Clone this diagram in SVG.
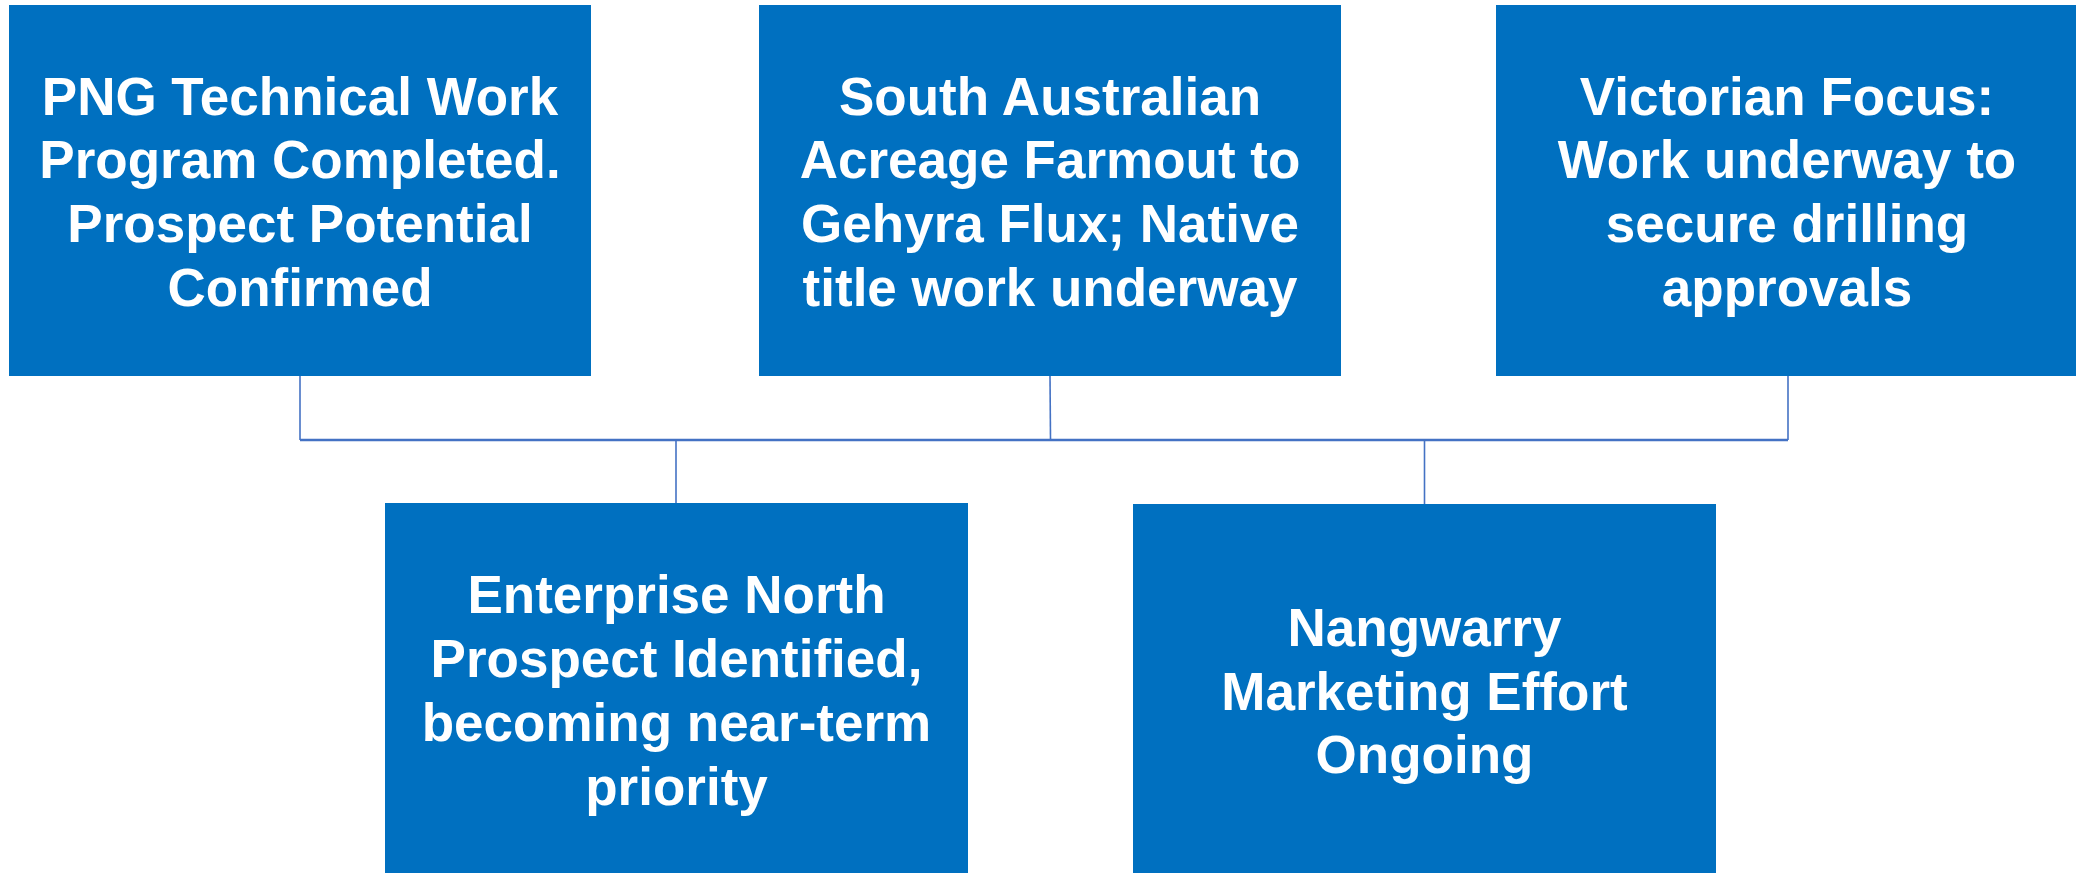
<svg xmlns="http://www.w3.org/2000/svg" width="2076" height="873" viewBox="0 0 2076 873">
<style>
.box{fill:#0070C0}
.lbl{font-family:"Liberation Sans",Arial,sans-serif;font-weight:bold;font-size:53px;fill:#FFFFFF;text-anchor:middle}
.con{stroke:#4472C4;stroke-width:1.6;fill:none}
.bar{stroke:#4472C4;stroke-width:2.4;fill:none}
</style>
<rect x="0" y="0" width="2076" height="873" fill="#FFFFFF"/>
<g id="connectors">
<line class="con" x1="300" y1="376" x2="300" y2="440"/>
<line class="con" x1="1050" y1="376" x2="1050.5" y2="440"/>
<line class="con" x1="1788" y1="376" x2="1788" y2="440"/>
<line class="bar" x1="300" y1="440" x2="1788" y2="440"/>
<line class="con" x1="676" y1="440" x2="676" y2="503"/>
<line class="con" x1="1424.5" y1="440" x2="1424.5" y2="504"/>
</g>
<g id="node1">
<rect class="box" x="9" y="5" width="582" height="371"/>
<text class="lbl"><tspan x="300" y="115">PNG Technical Work</tspan><tspan x="300" y="178">Program Completed.</tspan><tspan x="300" y="242">Prospect Potential</tspan><tspan x="300" y="306">Confirmed</tspan></text>
</g>
<g id="node2">
<rect class="box" x="759" y="5" width="582" height="371"/>
<text class="lbl"><tspan x="1050" y="115">South Australian</tspan><tspan x="1050" y="178">Acreage Farmout to</tspan><tspan x="1050" y="242">Gehyra Flux; Native</tspan><tspan x="1050" y="306">title work underway</tspan></text>
</g>
<g id="node3">
<rect class="box" x="1496" y="5" width="580" height="371"/>
<text class="lbl"><tspan x="1787" y="115">Victorian Focus:</tspan><tspan x="1787" y="178">Work underway to</tspan><tspan x="1787" y="242">secure drilling</tspan><tspan x="1787" y="306">approvals</tspan></text>
</g>
<g id="node4">
<rect class="box" x="385" y="503" width="583" height="370"/>
<text class="lbl"><tspan x="676.5" y="613">Enterprise North</tspan><tspan x="676.5" y="677">Prospect Identified,</tspan><tspan x="676.5" y="741">becoming near-term</tspan><tspan x="676.5" y="805">priority</tspan></text>
</g>
<g id="node5">
<rect class="box" x="1133" y="504" width="583" height="369"/>
<text class="lbl"><tspan x="1424.5" y="646">Nangwarry</tspan><tspan x="1424.5" y="710">Marketing Effort</tspan><tspan x="1424.5" y="773">Ongoing</tspan></text>
</g>
</svg>
